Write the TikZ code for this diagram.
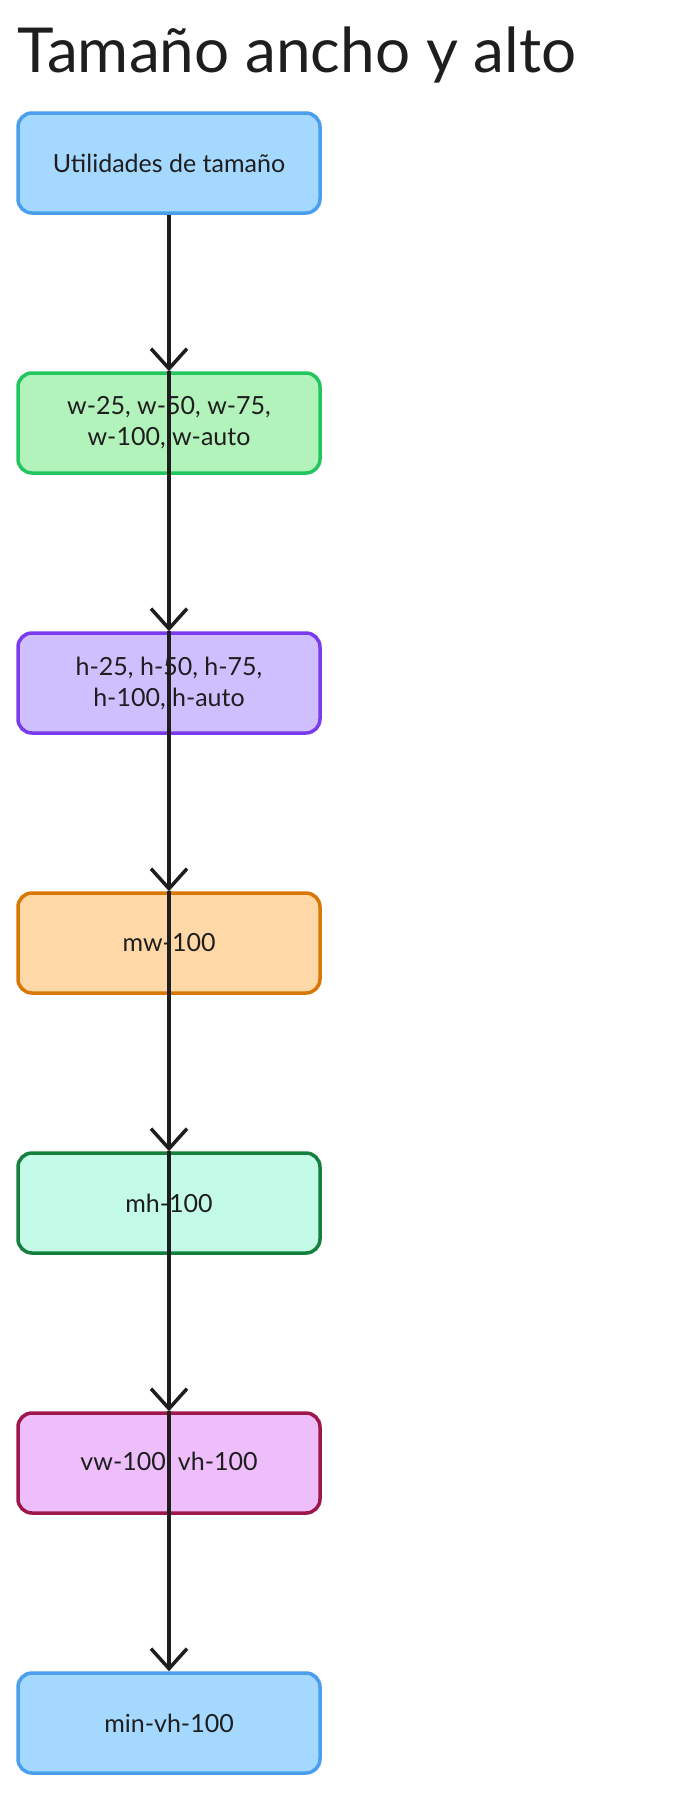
\documentclass[tikz,border=0pt]{standalone}
\usepackage{fontspec}
\setmainfont{Lato}
\usetikzlibrary{arrows.meta}
\definecolor{bF}{HTML}{A5D8FF}\definecolor{bS}{HTML}{4A9EED}
\definecolor{gF}{HTML}{B2F2BB}\definecolor{gS}{HTML}{22C55E}
\definecolor{pF}{HTML}{D0BFFF}\definecolor{pS}{HTML}{7C3AED}
\definecolor{oF}{HTML}{FFD8A8}\definecolor{oS}{HTML}{D97706}
\definecolor{tF}{HTML}{C3FAE8}\definecolor{tS}{HTML}{15803D}
\definecolor{mF}{HTML}{EEBEFA}\definecolor{mS}{HTML}{9D174D}
\definecolor{ink}{HTML}{1E1E1E}
\begin{document}
\begin{tikzpicture}[x=1pt,y=-1pt,
  box/.style={draw, line width=3.5pt, rounded corners=14pt, minimum width=302pt, minimum height=100pt, align=center, font=\fontsize{25}{31}\selectfont, text=ink},
  arr/.style={draw=ink, line width=4.5pt, -{Straight Barb[length=20pt,width=36pt,line width=3.5pt]}}]
\useasboundingbox (0,0) rectangle (678,1794);
\node[anchor=west, font=\fontsize{62}{70}\selectfont, text=ink] (t) at (14,55) {Tamaño ancho y alto};
\node[box, fill=bF, draw=bS] (a) at (169,163) {Utilidades de tamaño};
\node[box, fill=gF, draw=gS] (b) at (169,423) {w-25, w-50, w-75,\\w-100, w-auto};
\node[box, fill=pF, draw=pS] (c) at (169,683) {h-25, h-50, h-75,\\h-100, h-auto};
\node[box, fill=oF, draw=oS] (d) at (169,943) {mw-100};
\node[box, fill=tF, draw=tS] (e) at (169,1203) {mh-100};
\node[box, fill=mF, draw=mS] (f) at (169,1463) {vw-100, vh-100};
\node[box, fill=bF, draw=bS] (g) at (169,1723) {min-vh-100};
\draw[arr] (a.south) -- (b.north);
\draw[arr] (b.north) -- (c.north);
\draw[arr] (c.north) -- (d.north);
\draw[arr] (d.north) -- (e.north);
\draw[arr] (e.north) -- (f.north);
\draw[arr] (f.north) -- (g.north);
\end{tikzpicture}
\end{document}
